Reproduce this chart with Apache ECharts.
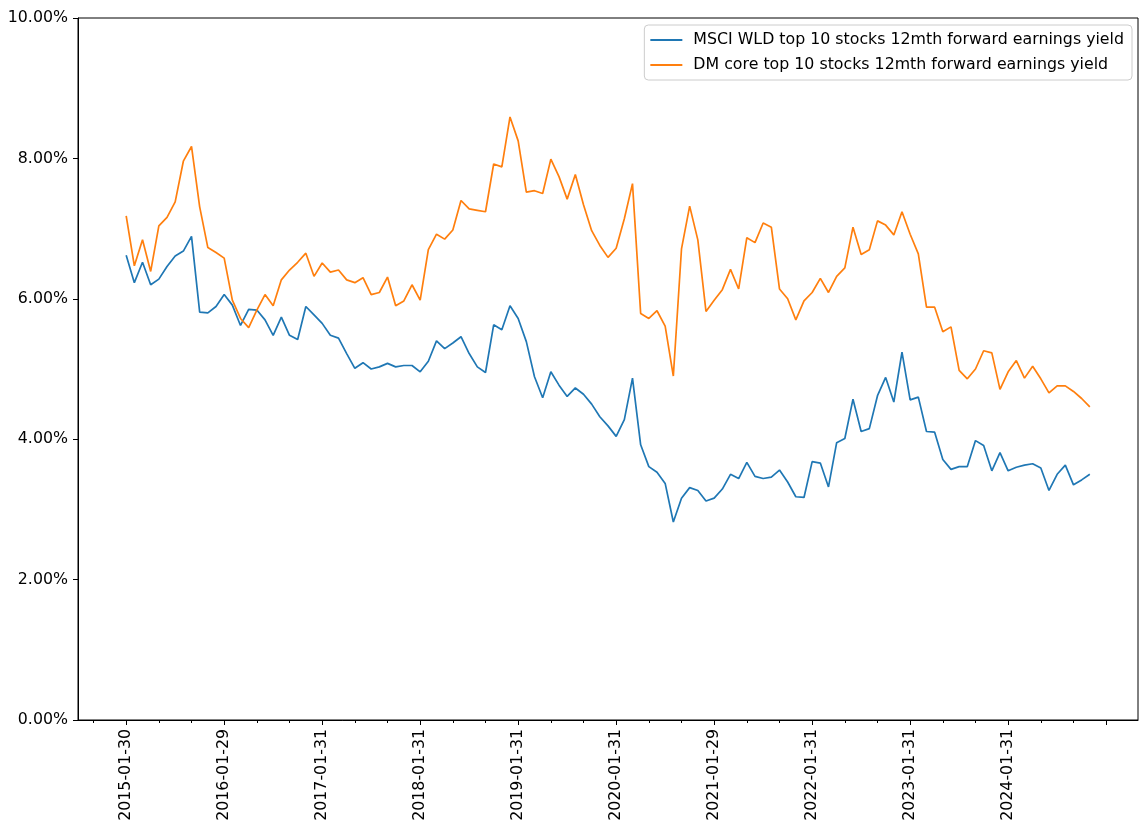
<!DOCTYPE html>
<html>
<head>
<meta charset="utf-8">
<script src="https://cdn.jsdelivr.net/npm/echarts@6/dist/echarts.min.js"></script>
<style>
html,body{margin:0;padding:0;background:#fff;}
#chart{width:1148px;height:835px;}
</style>
</head>
<body>
<div id="chart"></div>
<script>
// Monthly observations, Jan 2015 .. Nov 2024 (last business day of each month)
const startYear = 2015, startMonth = 0, nPoints = 119;

const msciWld = [
  6.62,6.23,6.52,6.20,6.28,6.46,6.61,6.68,6.89,5.81,5.80,5.89,
  6.06,5.91,5.62,5.85,5.84,5.70,5.48,5.74,5.48,5.42,5.89,5.77,
  5.65,5.48,5.44,5.22,5.01,5.09,5.00,5.03,5.08,5.03,5.05,5.05,
  4.96,5.11,5.40,5.29,5.37,5.46,5.22,5.03,4.95,5.63,5.56,5.90,
  5.72,5.39,4.89,4.59,4.96,4.77,4.61,4.73,4.64,4.50,4.32,4.19,
  4.04,4.28,4.87,3.92,3.61,3.53,3.37,2.82,3.16,3.31,3.27,3.12,
  3.16,3.29,3.50,3.44,3.67,3.47,3.44,3.46,3.56,3.39,3.18,3.17,
  3.68,3.66,3.32,3.95,4.01,4.57,4.11,4.15,4.62,4.88,4.53,5.24,
  4.56,4.60,4.11,4.10,3.71,3.57,3.61,3.61,3.98,3.91,3.55,3.81,
  3.55,3.60,3.63,3.65,3.59,3.27,3.50,3.63,3.35,3.42,3.50
];

const dmCore = [
  7.18,6.47,6.84,6.39,7.04,7.16,7.38,7.96,8.17,7.31,6.73,6.66,
  6.58,5.98,5.72,5.59,5.84,6.06,5.90,6.27,6.41,6.52,6.65,6.32,
  6.51,6.38,6.41,6.27,6.23,6.30,6.06,6.09,6.31,5.90,5.97,6.20,
  5.98,6.70,6.92,6.85,6.98,7.40,7.28,7.26,7.24,7.92,7.88,8.59,
  8.25,7.52,7.54,7.50,7.99,7.74,7.42,7.77,7.34,6.97,6.76,6.59,
  6.72,7.14,7.64,5.79,5.72,5.83,5.61,4.90,6.71,7.32,6.84,5.82,
  5.98,6.13,6.42,6.14,6.87,6.80,7.08,7.02,6.14,6.00,5.70,5.97,
  6.09,6.29,6.09,6.32,6.44,7.02,6.63,6.70,7.11,7.05,6.91,7.24,
  6.92,6.64,5.88,5.88,5.53,5.60,4.98,4.86,5.00,5.26,5.23,4.71,
  4.96,5.12,4.87,5.04,4.86,4.66,4.76,4.76,4.68,4.58,4.46
];

const seriesNames = [
  'MSCI WLD top 10 stocks 12mth forward earnings yield',
  'DM core top 10 stocks 12mth forward earnings yield'
];

const yTicks = [0, 2, 4, 6, 8, 10];
const majorTickIdx = [0, 12, 24, 36, 48, 60, 72, 84, 96, 108, 120];
const labelTickIdx = [0, 12, 24, 36, 48, 60, 72, 84, 96, 108];
const minorTickIdx = [-4, 4, 8, 16, 20, 28, 32, 40, 44, 52, 56, 64, 68, 76, 80, 88, 92, 100, 104, 112, 116];

function lastBusinessDay(y, m) {
  const d = new Date(Date.UTC(y, m + 1, 0));
  while (d.getUTCDay() === 0 || d.getUTCDay() === 6) d.setUTCDate(d.getUTCDate() - 1);
  const mm = String(d.getUTCMonth() + 1).padStart(2, '0');
  const dd = String(d.getUTCDate()).padStart(2, '0');
  return d.getUTCFullYear() + '-' + mm + '-' + dd;
}
const dates = [];
for (let i = 0; i < nPoints; i++) {
  dates.push(lastBusinessDay(startYear + Math.floor((startMonth + i) / 12), (startMonth + i) % 12));
}

const margin = (nPoints - 1) * 0.05;
const FONT = 'DejaVu Sans';
const FS = 15.8;

const chart = echarts.init(document.getElementById('chart'), null, {renderer: 'canvas'});
chart.setOption({
  animation: false,
  backgroundColor: '#ffffff',
  textStyle: {fontFamily: FONT},
  grid: {left: 78, right: 10, top: 18, bottom: 115, show: true, borderColor: '#000', borderWidth: 1, backgroundColor: 'transparent'},
  legend: {
    orient: 'vertical',
    right: 16,
    top: 25,
    padding: [7, 8, 7, 6],
    itemGap: 9,
    itemWidth: 32,
    itemHeight: 2,
    icon: 'rect',
    borderColor: '#cccccc',
    borderWidth: 1,
    borderRadius: 4,
    backgroundColor: 'rgba(255,255,255,0.8)',
    textStyle: {fontFamily: FONT, fontSize: FS, color: '#000', padding: [0, 0, 0, 6]},
    data: seriesNames
  },
  xAxis: [{
    type: 'value',
    min: -margin,
    max: nPoints - 1 + margin,
    splitLine: {show: false},
    axisLine: {show: true, onZero: false, lineStyle: {color: '#000', width: 1}},
    axisTick: {show: true, length: 5, lineStyle: {color: '#000', width: 1}, customValues: majorTickIdx},
    axisLabel: {
      show: true, rotate: 90, fontSize: FS, color: '#000', fontFamily: FONT, margin: 9,
      customValues: labelTickIdx,
      formatter: v => dates[Math.round(v)] || ''
    }
  }, {
    type: 'value',
    min: -margin,
    max: nPoints - 1 + margin,
    position: 'bottom',
    splitLine: {show: false},
    axisLine: {show: false, onZero: false},
    axisTick: {show: true, length: 3, lineStyle: {color: '#000', width: 1}, customValues: minorTickIdx},
    axisLabel: {show: false}
  }],
  yAxis: {
    type: 'value',
    min: 0, max: 10, interval: 2,
    splitLine: {show: false},
    axisLine: {show: true, onZero: false, lineStyle: {color: '#000', width: 1}},
    axisTick: {show: true, length: 5, lineStyle: {color: '#000', width: 1}},
    axisLabel: {fontSize: FS, color: '#000', fontFamily: FONT, margin: 10, formatter: v => v.toFixed(2) + '%'}
  },
  series: [
    {
      name: seriesNames[0], type: 'line', xAxisIndex: 0, showSymbol: false, symbol: 'none',
      lineStyle: {color: '#1f77b4', width: 1.7}, itemStyle: {color: '#1f77b4'},
      data: msciWld.map((v, i) => [i, v])
    },
    {
      name: seriesNames[1], type: 'line', xAxisIndex: 0, showSymbol: false, symbol: 'none',
      lineStyle: {color: '#ff7f0e', width: 1.7}, itemStyle: {color: '#ff7f0e'},
      data: dmCore.map((v, i) => [i, v])
    }
  ]
});
</script>
</body>
</html>
